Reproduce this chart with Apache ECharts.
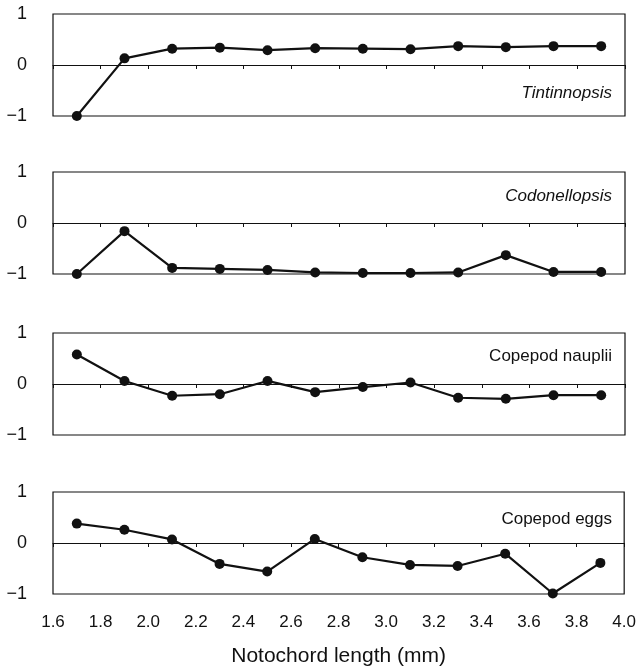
<!DOCTYPE html>
<html>
<head>
<meta charset="utf-8">
<script src="https://cdn.jsdelivr.net/npm/echarts@6/dist/echarts.min.js"></script>
<style>
  html, body { margin: 0; padding: 0; background: #fff; }
  #chart { width: 639px; height: 668px; }
</style>
</head>
<body>
<div id="chart"></div>
<script>
// notochord length (mm)
const lengths = [1.7, 1.9, 2.1, 2.3, 2.5, 2.7, 2.9, 3.1, 3.3, 3.5, 3.7, 3.9];

const tintinnopsis = [-1, 0.13, 0.32, 0.34, 0.29, 0.33, 0.32, 0.31, 0.37, 0.35, 0.37, 0.37];
const codonellopsis = [-1, -0.16, -0.88, -0.9, -0.92, -0.97, -0.98, -0.98, -0.97, -0.63, -0.96, -0.96];
const nauplii = [0.58, 0.06, -0.23, -0.2, 0.06, -0.16, -0.06, 0.03, -0.27, -0.29, -0.22, -0.22];
const eggs = [0.38, 0.26, 0.07, -0.41, -0.56, 0.08, -0.28, -0.43, -0.45, -0.21, -0.99, -0.39];

const panels = [
  { name: 'Tintinnopsis', italic: true, data: tintinnopsis, top: 14, labelTop: 85 },
  { name: 'Codonellopsis', italic: true, data: codonellopsis, top: 172, labelTop: 188 },
  { name: 'Copepod nauplii', italic: false, data: nauplii, top: 333, labelTop: 348 },
  { name: 'Copepod eggs', italic: false, data: eggs, top: 492, labelTop: 511 }
];

const xMin = 1.6, xMax = 4.0, xStep = 0.2;
const font = 'Liberation Sans, Arial, sans-serif';

const grid = [], xAxis = [], yAxis = [], series = [], graphic = [];

panels.forEach((p, i) => {
  const last = i === panels.length - 1;
  grid.push({
    left: 53, right: 14, top: p.top, height: 102,
    show: true, borderColor: '#111', borderWidth: 1.2, backgroundColor: 'transparent'
  });
  // bottom axis: only used for labels on the last panel
  xAxis.push({
    type: 'value', gridIndex: i, min: xMin, max: xMax, interval: xStep,
    position: 'bottom',
    axisLine: { show: false, onZero: false },
    axisTick: { show: false },
    splitLine: { show: false },
    axisLabel: {
      show: last, margin: 20, fontSize: 17, color: '#111', fontFamily: font,
      formatter: v => v.toFixed(1)
    },
    name: last ? 'Notochord length (mm)' : '',
    nameLocation: 'middle', nameGap: 52,
    nameTextStyle: { fontSize: 21, color: '#111', fontFamily: font }
  });
  // zero line with small upward ticks
  xAxis.push({
    type: 'value', gridIndex: i, min: xMin, max: xMax, interval: xStep,
    axisLine: { show: true, onZero: true, lineStyle: { color: '#111', width: 1.2 } },
    axisTick: { show: true, inside: true, length: 4, lineStyle: { color: '#111' } },
    axisLabel: { show: false },
    splitLine: { show: false }
  });
  yAxis.push({
    type: 'value', gridIndex: i, min: -1, max: 1, interval: 1,
    axisLine: { show: false },
    axisTick: { show: false },
    splitLine: { show: false },
    axisLabel: {
      margin: 26, fontSize: 18, color: '#111', fontFamily: font,
      formatter: v => (v < 0 ? '\u2212' + Math.abs(v) : String(v))
    }
  });
  series.push({
    type: 'line', xAxisIndex: i * 2, yAxisIndex: i,
    data: lengths.map((x, k) => [x, p.data[k]]),
    symbol: 'circle', symbolSize: 10,
    itemStyle: { color: '#111' },
    lineStyle: { color: '#111', width: 2.2 },
    clip: false,
    z: 5
  });
  graphic.push({
    type: 'text', right: 27, top: p.labelTop,
    style: {
      text: p.name, fill: '#111', fontSize: 17, fontFamily: font,
      fontStyle: p.italic ? 'italic' : 'normal'
    }
  });
});

const chart = echarts.init(document.getElementById('chart'), null, { renderer: 'canvas' });
chart.setOption({
  animation: false,
  backgroundColor: '#fff',
  grid, xAxis, yAxis, series, graphic
});
</script>
</body>
</html>
